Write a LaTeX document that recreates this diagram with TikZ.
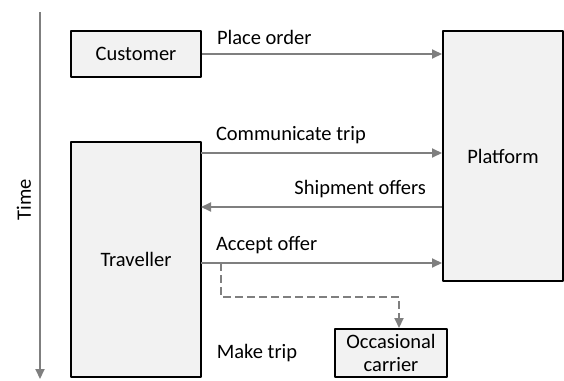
\documentclass[tikz,border=0pt]{standalone}
\usepackage{fontspec}
\setmainfont{Carlito}
\usetikzlibrary{arrows.meta,positioning}
\definecolor{boxfill}{HTML}{F2F2F2}
\definecolor{arrowgray}{HTML}{7F7F7F}
\tikzset{
  actor/.style={draw=black, fill=boxfill, line width=2pt, inner sep=0pt, align=center},
  msg/.style={draw=arrowgray, line width=2pt, -{Triangle[length=10pt,width=9pt]}},
  lbl/.style={inner sep=0pt}
}
\begin{document}
\begin{tikzpicture}[x=1pt, y=1pt, font=\fontsize{20.5}{23}\selectfont, line join=round, >=stealth]
		\useasboundingbox (0,0) rectangle (564,-380);
		% boxes
		\node[actor, minimum width=130pt, minimum height=46pt] (customer) at (136,-54) {Customer};
		\node[actor, minimum width=120pt, minimum height=250pt] (platform) at (503,-156) {Platform};
		\node[actor, minimum width=130pt, minimum height=235pt] (traveller) at (136,-259.5) {Traveller};
		\node[actor, minimum width=112pt, minimum height=48pt] (carrier) at (391,-353) {Occasional\\carrier};
		\node[lbl] (maketrip) at (257,-353) {Make trip};
		% time axis
		\path (40,-12) coordinate (t0) (40,-379) coordinate (t1);
		\draw[msg] (t0) -- (t1);
		\node[lbl, rotate=90] (time) at (24,-200) {Time};
		% messages
		\path (201,-153) coordinate (comm) (201,-207) coordinate (ship) (201,-263) coordinate (acc);
		\draw[msg] (customer.east) -- (customer.east -| platform.west)
			node[lbl, pos=0, anchor=south west, xshift=14pt, yshift=8pt] (po) {Place order};
		\draw[msg] (comm) -- (comm -| platform.west)
			node[lbl, pos=0, anchor=south west, xshift=14pt, yshift=8pt] (ct) {Communicate trip};
		\draw[msg] (ship -| platform.west) -- (ship)
			node[lbl, pos=0, anchor=south east, xshift=-15pt, yshift=8pt] (so) {Shipment offers};
		\draw[msg] (acc) -- (acc -| platform.west)
			node[lbl, pos=0, anchor=south west, xshift=14pt, yshift=8pt] (ao) {Accept offer};
		% dashed hand-over
		\path (221,-263) coordinate (split) (399,-297) coordinate (bend);
		\draw[msg, dash pattern=on 8pt off 4pt] (split) |- (bend) -- (bend |- carrier.north);
\end{tikzpicture}
\end{document}
